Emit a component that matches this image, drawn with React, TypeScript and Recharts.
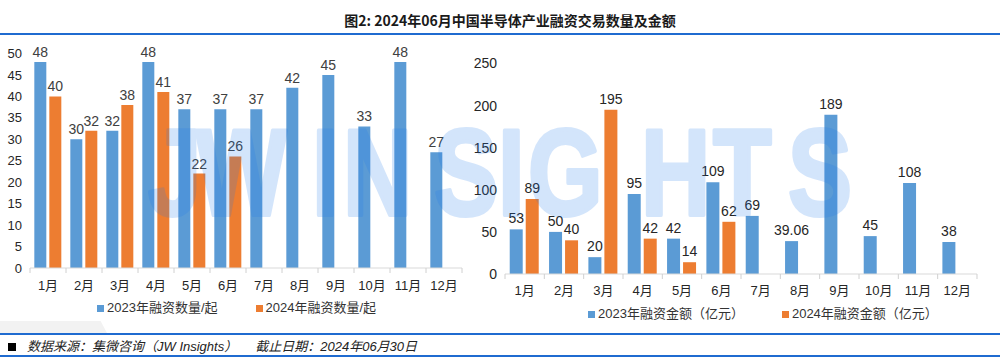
import React from 'react';
import { BarChart, Bar, XAxis, YAxis, LabelList } from 'recharts';

const months = ['1月', '2月', '3月', '4月', '5月', '6月', '7月', '8月', '9月', '10月', '11月', '12月'];
const count2023 = [48, 30, 32, 48, 37, 37, 37, 42, 45, 33, 48, 27];
const count2024 = [40, 32, 38, 41, 22, 26];
const amount2023 = [53, 50, 20, 95, 42, 109, 69, 39.06, 189, 45, 108, 38];
const amount2024 = [89, 40, 195, 42, 14, 62];
const countTicks = [0, 5, 10, 15, 20, 25, 30, 35, 40, 45, 50];
const amountTicks = [0, 50, 100, 150, 200, 250];

const BLUE = '#5b9bd5';
const ORANGE = '#ed7d31';
const FONT = '"Liberation Sans", Arial, "Noto Sans CJK SC", sans-serif';
const LINE = '#1f6bd0';

const countData = months.map((m, i) => ({ name: m, a: count2023[i], b: count2024[i] ?? null }));
const amountData = months.map((m, i) => ({ name: m, a: amount2023[i], b: amount2024[i] ?? null }));

// watermark glyph left edges (page px), drawn condensed
const WM_TEXT = 'JWINSIGHTS';
const WM_X = [148, 196, 312, 343, 434, 498, 528, 641, 713, 788];
const WM_SCALE = 0.78;

// excel-style x ticks: tick marks sit between categories
const makeTick = (band: number, dy: number) => (props: any) => {
  const { x, y, payload, index } = props;
  return (
    <g>
      <line x1={x - band / 2} x2={x - band / 2} y1={y} y2={y + 5} stroke="#d0d0d0" />
      {index === months.length - 1 && (
        <line x1={x + band / 2} x2={x + band / 2} y1={y} y2={y + 5} stroke="#d0d0d0" />
      )}
      <text x={x} y={y + dy} textAnchor="middle" dominantBaseline="central" fill="#262626" fontSize={13} fontFamily={FONT}>
        {payload.value}
      </text>
    </g>
  );
};

const LegendItem = ({ color, text }: { color: string; text: string }) => (
  <div style={{ display: 'flex', alignItems: 'center', marginRight: 38 }}>
    <div style={{ width: 7, height: 7, background: color, marginRight: 3 }} />
    <span>{text}</span>
  </div>
);

export default function App() {
  return (
    <div style={{ position: 'fixed', left: 0, top: 0, width: 1000, height: 357, background: '#fff', fontFamily: FONT, overflow: 'hidden' }}>
      {/* title */}
      <div style={{ position: 'absolute', left: 10, top: 11, width: 1000, textAlign: 'center', fontSize: 14, fontWeight: 700, lineHeight: '18px', color: '#1a1a1a', fontFamily: '"Noto Sans CJK SC", "Liberation Sans", sans-serif' }}>
        图2: 2024年06月中国半导体产业融资交易数量及金额
      </div>
      <div style={{ position: 'absolute', left: 0, top: 33, width: 1000, height: 2, background: LINE }} />

      {/* left: counts */}
      <div style={{ position: 'absolute', left: 0, top: 0 }}>
        <BarChart width={480} height={357} data={countData} margin={{ top: 53.5, right: 18, bottom: 59, left: 0 }} barCategoryGap="12%" barGap={3}>
          <XAxis dataKey="name" height={30} axisLine={{ stroke: '#d9d9d9' }} tickLine={false} tickSize={0} tickMargin={0} interval={0} tick={makeTick(36, 17)} />
          <YAxis width={30} domain={[0, 50]} ticks={countTicks} axisLine={false} tickLine={false} tick={{ fill: '#262626', fontSize: 13, fontFamily: FONT }} />
          <Bar dataKey="a" fill={BLUE} isAnimationActive={false}>
            <LabelList dataKey="a" position="top" offset={5} fill="#404040" fontSize={14} fontFamily={FONT} />
          </Bar>
          <Bar dataKey="b" fill={ORANGE} isAnimationActive={false}>
            <LabelList dataKey="b" position="top" offset={5} fill="#404040" fontSize={14} fontFamily={FONT} />
          </Bar>
        </BarChart>
      </div>

      {/* right: amounts */}
      <div style={{ position: 'absolute', left: 465, top: 0 }}>
        <BarChart width={535} height={357} data={amountData} margin={{ top: 63.5, right: 23, bottom: 53, left: 0 }} barCategoryGap="12%" barGap={3}>
          <XAxis dataKey="name" height={30} axisLine={{ stroke: '#d9d9d9' }} tickLine={false} tickSize={0} tickMargin={0} interval={0} tick={makeTick(39.33, 16)} />
          <YAxis width={40} domain={[0, 250]} ticks={amountTicks} axisLine={false} tickLine={false} tick={{ fill: '#262626', fontSize: 14, fontFamily: FONT }} />
          <Bar dataKey="a" fill={BLUE} isAnimationActive={false}>
            <LabelList dataKey="a" position="top" offset={6} fill="#262626" fontSize={14} fontFamily={FONT} />
          </Bar>
          <Bar dataKey="b" fill={ORANGE} isAnimationActive={false}>
            <LabelList dataKey="b" position="top" offset={6} fill="#262626" fontSize={14} fontFamily={FONT} />
          </Bar>
        </BarChart>
      </div>

      {/* legends */}
      <div style={{ position: 'absolute', left: 97, top: 299, display: 'flex', fontSize: 13, color: '#333', lineHeight: '18px' }}>
        <LegendItem color={BLUE} text="2023年融资数量/起" />
        <LegendItem color={ORANGE} text="2024年融资数量/起" />
      </div>
      <div style={{ position: 'absolute', left: 588, top: 305, display: 'flex', fontSize: 13, color: '#333', lineHeight: '18px' }}>
        <LegendItem color={BLUE} text="2023年融资金额（亿元）" />
        <LegendItem color={ORANGE} text="2024年融资金额（亿元）" />
      </div>

      {/* watermark */}
      <svg width={1000} height={357} style={{ position: 'absolute', left: 0, top: 0, pointerEvents: 'none' }}>
        <g opacity={0.19} transform={`scale(${WM_SCALE},1)`}>
          <text
            x={WM_X.map((v) => (v / WM_SCALE).toFixed(1)).join(' ')}
            y={215}
            fontSize={123}
            fontWeight={700}
            fontFamily={FONT}
            fill="#1e78eb"
            stroke="#1e78eb"
            strokeWidth={4}
            strokeLinejoin="round"
          >
            {WM_TEXT}
          </text>
        </g>
      </svg>

      {/* footer */}
      <div style={{ position: 'absolute', left: 0, top: 321, width: 107, height: 12, background: '#f2f2f2', clipPath: 'polygon(0 0, 94% 0, 100% 100%, 0 100%)' }} />
      <div style={{ position: 'absolute', left: 0, top: 333, width: 1000, height: 2, background: LINE }} />
      <div style={{ position: 'absolute', left: 8, top: 338, display: 'flex', alignItems: 'center', fontSize: 13, fontStyle: 'italic', color: '#222', lineHeight: '18px', whiteSpace: 'pre' }}>
        <div style={{ width: 8, height: 8, background: '#000', marginRight: 11 }} />
        <span>数据来源：集微咨询（JW Insights）     截止日期：2024年06月30日</span>
      </div>
      <div style={{ position: 'absolute', left: 0, top: 355, width: 1000, height: 2, background: LINE }} />
    </div>
  );
}
